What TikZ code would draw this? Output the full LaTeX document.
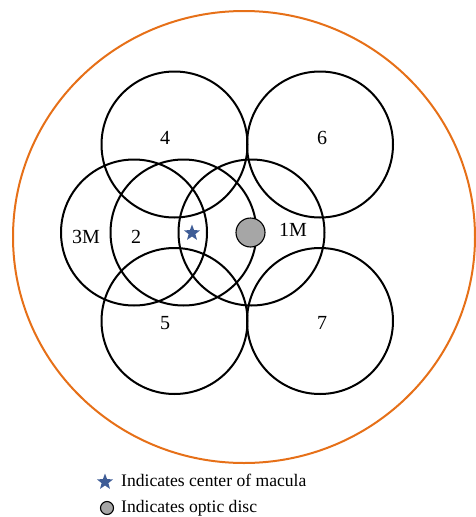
\documentclass[tikz,border=0pt]{standalone}
\usepackage{fontspec}
\setmainfont{Liberation Serif}
\usetikzlibrary{shapes.geometric}
\definecolor{ringorange}{RGB}{230,112,24}
\definecolor{starblue}{RGB}{62,92,150}
\definecolor{discgray}{RGB}{166,166,166}
\begin{document}
\begin{tikzpicture}[x=1pt,y=-1pt,
  field/.style={circle,draw=black,line width=2pt,minimum size=146pt,inner sep=0pt},
  lbl/.style={font=\fontsize{20}{20}\selectfont,inner sep=0pt},
  legtext/.style={font=\fontsize{17.6}{18}\selectfont,anchor=west,inner sep=0pt},
  macstar/.style={star,star points=5,star point ratio=2.4,fill=starblue,draw=none,minimum size=#1,inner sep=0pt},
  disc/.style={circle,fill=discgray,draw=black,line width=1.1pt,minimum size=#1,inner sep=0pt}]
\useasboundingbox (0,0) rectangle (476,517);
\draw[ringorange,line width=2pt] (244,237) ellipse [x radius=231, y radius=226];
\node[field] (f4) at (174.5,144.5) {};
\node[field] (f6) at (320,144.5) {};
\node[field] (f5) at (174.5,321) {};
\node[field] (f7) at (320,321) {};
\node[field] (f3) at (134,232.5) {};
\node[field] (f2) at (183.5,232.5) {};
\node[field] (f1) at (251.5,232.5) {};
\node[macstar=17pt] (mac) at (192,233) {};
\node[disc=29pt] (od) at (250.5,232.5) {};
\node[lbl] (l4) at (165,138) {4};
\node[lbl] (l6) at (322,138) {6};
\node[lbl] (l3) at (86,237) {3M};
\node[lbl] (l2) at (136,237) {2};
\node[lbl] (l1) at (293,230) {1M};
\node[lbl] (l5) at (165,323) {5};
\node[lbl] (l7) at (322,323) {7};
\node[macstar=17pt] (legstar) at (105,482) {};
\node[legtext] (t1) at (121,480) {Indicates center of macula};
\node[disc=13pt] (legdisc) at (107,508) {};
\node[legtext] (t2) at (121,508) {Indicates optic disc};
\end{tikzpicture}
\end{document}
